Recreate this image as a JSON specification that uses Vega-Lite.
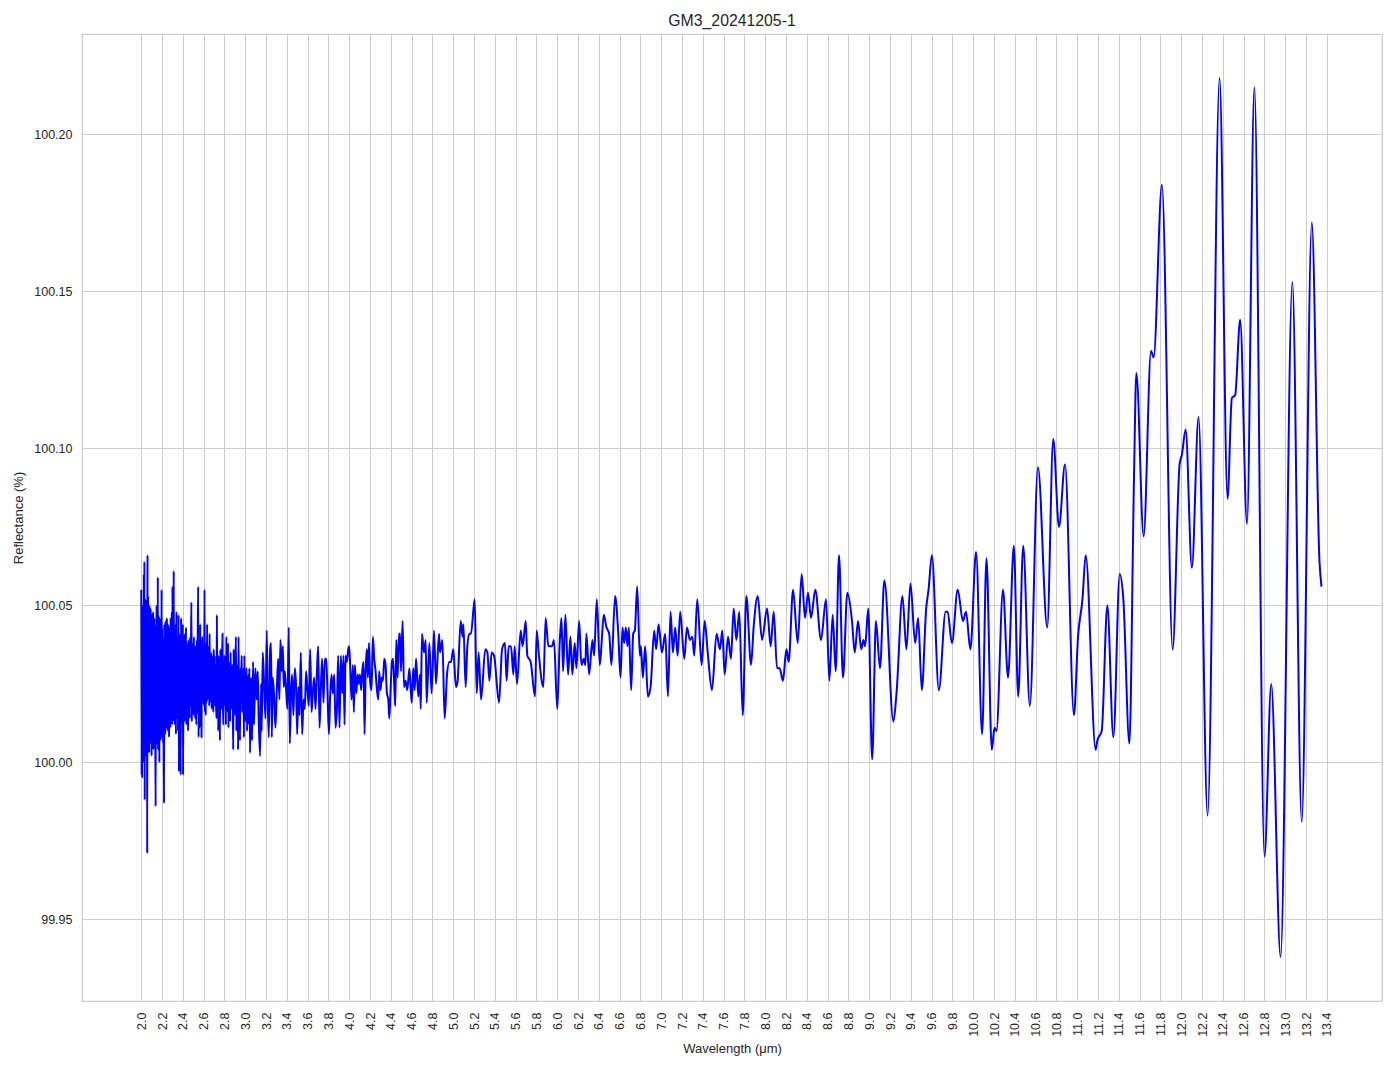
{
  "$schema": "https://vega.github.io/schema/vega-lite/v6.json",
  "autosize": {"type": "none"},
  "width": 1300,
  "height": 967,
  "padding": {"left": 82, "top": 34, "right": 12, "bottom": 68},
  "background": "white",
  "title": {"text": "GM3_20241205-1", "font": "Liberation Sans", "fontSize": 15.8, "fontWeight": "normal", "color": "#262626", "offset": 4},
  "config": {
    "view": {"stroke": "#cccccc", "strokeWidth": 1.25},
    "axis": {"gridColor": "#cccccc", "gridWidth": 1, "gridOpacity": 1, "domain": false, "ticks": false,
      "labelFont": "Liberation Sans", "labelFontSize": 12.5, "labelColor": "#262626",
      "titleFont": "Liberation Sans", "titleFontSize": 13, "titleFontWeight": "normal", "titleColor": "#262626"}
  },
  "data": {"values": [
{"w":2.000,"r":100.055},{"w":2.003,"r":99.996},{"w":2.006,"r":100.040},{"w":2.009,"r":99.995},{"w":2.012,"r":100.050},{"w":2.015,"r":100.005},{"w":2.018,"r":100.044},{"w":2.021,"r":100.000},{"w":2.024,"r":100.060},{"w":2.027,"r":100.010},{"w":2.030,"r":100.064},{"w":2.033,"r":99.988},{"w":2.036,"r":100.048},{"w":2.039,"r":100.012},{"w":2.042,"r":100.052},{"w":2.045,"r":100.002},{"w":2.048,"r":100.045},{"w":2.051,"r":100.008},{"w":2.054,"r":100.050},{"w":2.057,"r":99.971},{"w":2.060,"r":100.066},{"w":2.063,"r":100.005},{"w":2.066,"r":100.053},{"w":2.069,"r":100.009},{"w":2.072,"r":100.048},{"w":2.075,"r":100.003},{"w":2.078,"r":100.050},{"w":2.081,"r":100.010},{"w":2.084,"r":100.046},{"w":2.087,"r":100.006},{"w":2.090,"r":100.049},{"w":2.093,"r":100.012},{"w":2.096,"r":100.042},{"w":2.099,"r":100.002},{"w":2.102,"r":100.047},{"w":2.105,"r":100.007},{"w":2.108,"r":100.044},{"w":2.111,"r":100.010},{"w":2.114,"r":100.048},{"w":2.117,"r":100.004},{"w":2.120,"r":100.043},{"w":2.123,"r":100.011},{"w":2.126,"r":100.046},{"w":2.129,"r":100.007},{"w":2.132,"r":100.040},{"w":2.135,"r":100.012},{"w":2.138,"r":99.986},{"w":2.141,"r":100.044},{"w":2.144,"r":100.009},{"w":2.147,"r":100.050},{"w":2.150,"r":100.006},{"w":2.153,"r":100.045},{"w":2.156,"r":100.010},{"w":2.159,"r":100.059},{"w":2.162,"r":100.004},{"w":2.165,"r":100.047},{"w":2.168,"r":100.011},{"w":2.171,"r":100.042},{"w":2.174,"r":100.000},{"w":2.177,"r":100.046},{"w":2.180,"r":100.013},{"w":2.183,"r":100.041},{"w":2.186,"r":100.007},{"w":2.189,"r":100.045},{"w":2.192,"r":100.014},{"w":2.195,"r":100.055},{"w":2.198,"r":100.008},{"w":2.201,"r":100.043},{"w":2.204,"r":100.012},{"w":2.207,"r":100.040},{"w":2.210,"r":100.006},{"w":2.213,"r":100.038},{"w":2.216,"r":100.010},{"w":2.219,"r":99.987},{"w":2.222,"r":100.044},{"w":2.225,"r":100.013},{"w":2.228,"r":100.039},{"w":2.231,"r":100.009},{"w":2.234,"r":100.045},{"w":2.237,"r":100.014},{"w":2.240,"r":100.041},{"w":2.243,"r":100.011},{"w":2.246,"r":100.046},{"w":2.249,"r":100.015},{"w":2.252,"r":100.040},{"w":2.255,"r":100.010},{"w":2.258,"r":100.044},{"w":2.261,"r":100.013},{"w":2.264,"r":100.038},{"w":2.267,"r":100.008},{"w":2.270,"r":100.043},{"w":2.273,"r":100.015},{"w":2.276,"r":100.037},{"w":2.279,"r":100.011},{"w":2.282,"r":100.046},{"w":2.285,"r":100.014},{"w":2.288,"r":100.040},{"w":2.291,"r":100.016},{"w":2.294,"r":100.048},{"w":2.297,"r":100.012},{"w":2.300,"r":100.056},{"w":2.303,"r":100.015},{"w":2.306,"r":100.042},{"w":2.309,"r":100.018},{"w":2.312,"r":100.061},{"w":2.315,"r":100.013},
{"w":2.318,"r":100.040},{"w":2.323,"r":100.012},{"w":2.328,"r":100.044},{"w":2.333,"r":100.009},{"w":2.338,"r":100.048},{"w":2.343,"r":100.014},{"w":2.348,"r":100.039},{"w":2.353,"r":100.010},{"w":2.358,"r":100.047},{"w":2.362,"r":99.997},{"w":2.367,"r":100.041},{"w":2.371,"r":100.013},{"w":2.375,"r":100.038},{"w":2.379,"r":99.996},{"w":2.383,"r":100.046},{"w":2.387,"r":100.012},{"w":2.391,"r":100.040},{"w":2.395,"r":100.015},{"w":2.399,"r":100.044},{"w":2.402,"r":99.996},{"w":2.406,"r":100.037},{"w":2.410,"r":100.014},{"w":2.414,"r":100.041},{"w":2.418,"r":100.013},{"w":2.422,"r":100.036},{"w":2.426,"r":100.016},{"w":2.430,"r":100.043},{"w":2.434,"r":100.012},{"w":2.438,"r":100.038},{"w":2.442,"r":100.017},{"w":2.446,"r":100.035},{"w":2.450,"r":100.010},{"w":2.454,"r":100.039},{"w":2.458,"r":100.016},{"w":2.462,"r":100.036},{"w":2.466,"r":100.014},{"w":2.470,"r":100.040},{"w":2.474,"r":100.018},{"w":2.478,"r":100.037},{"w":2.482,"r":100.051},{"w":2.486,"r":100.013},{"w":2.490,"r":100.036},{"w":2.494,"r":100.017},{"w":2.498,"r":100.038},{"w":2.502,"r":100.015},{"w":2.506,"r":100.040},{"w":2.510,"r":100.019},{"w":2.514,"r":100.035},{"w":2.518,"r":100.014},{"w":2.522,"r":100.037},{"w":2.526,"r":100.018},{"w":2.530,"r":100.012},{"w":2.534,"r":100.039},{"w":2.538,"r":100.016},{"w":2.542,"r":100.036},{"w":2.547,"r":100.056},{"w":2.551,"r":100.008},{"w":2.555,"r":100.037},{"w":2.559,"r":100.017},{"w":2.563,"r":100.011},{"w":2.567,"r":100.044},{"w":2.571,"r":100.018},{"w":2.575,"r":100.035},{"w":2.579,"r":100.008},{"w":2.583,"r":100.037},{"w":2.588,"r":100.040},{"w":2.592,"r":100.019},{"w":2.596,"r":100.022},{"w":2.600,"r":100.036},{"w":2.604,"r":100.018},{"w":2.608,"r":100.055},{"w":2.612,"r":100.016},{"w":2.616,"r":100.034},{"w":2.620,"r":100.015},{"w":2.624,"r":100.038},{"w":2.628,"r":100.019},{"w":2.633,"r":100.044},{"w":2.637,"r":100.020},{"w":2.641,"r":100.035},{"w":2.645,"r":100.021},{"w":2.649,"r":100.037},{"w":2.653,"r":100.018},{"w":2.657,"r":100.041},{"w":2.661,"r":100.022},{"w":2.665,"r":100.033},{"w":2.669,"r":100.019},{"w":2.673,"r":100.035},{"w":2.677,"r":100.017},{"w":2.681,"r":100.034},{"w":2.685,"r":100.020},{"w":2.689,"r":100.032},{"w":2.693,"r":100.016},{"w":2.697,"r":100.036},{"w":2.701,"r":100.021},{"w":2.705,"r":100.034},{"w":2.709,"r":100.018},{"w":2.714,"r":100.031},{"w":2.718,"r":100.020},{"w":2.723,"r":100.014},{"w":2.727,"r":100.047},{"w":2.731,"r":100.019},{"w":2.736,"r":100.032},{"w":2.740,"r":100.010},{"w":2.744,"r":100.034},{"w":2.748,"r":100.018},{"w":2.752,"r":100.030},{"w":2.756,"r":100.007},{"w":2.760,"r":100.036},{"w":2.765,"r":100.020},{"w":2.769,"r":100.031},{"w":2.773,"r":100.017},{"w":2.777,"r":100.033},{"w":2.781,"r":100.041},{"w":2.785,"r":100.019},{"w":2.789,"r":100.012},{"w":2.793,"r":100.032},{"w":2.798,"r":100.021},{"w":2.802,"r":100.034},{"w":2.806,"r":100.018},{"w":2.810,"r":100.030},{"w":2.814,"r":100.012},{"w":2.818,"r":100.040},{"w":2.822,"r":100.022},{"w":2.826,"r":100.031},{"w":2.830,"r":100.016},{"w":2.834,"r":100.038},{"w":2.838,"r":100.011},{"w":2.843,"r":100.030},{"w":2.847,"r":100.020},{"w":2.851,"r":100.032},{"w":2.855,"r":100.013},{"w":2.859,"r":100.035},{"w":2.863,"r":100.022},{"w":2.867,"r":100.029},{"w":2.871,"r":100.017},{"w":2.875,"r":100.031},{"w":2.880,"r":100.021},{"w":2.884,"r":100.004},{"w":2.888,"r":100.036},{"w":2.892,"r":100.019},{"w":2.896,"r":100.029},{"w":2.900,"r":100.015},{"w":2.905,"r":100.032},{"w":2.910,"r":100.040},{"w":2.914,"r":100.010},{"w":2.918,"r":100.028},{"w":2.922,"r":100.019},{"w":2.926,"r":100.031},{"w":2.931,"r":100.004},{"w":2.935,"r":100.040},{"w":2.940,"r":100.018},{"w":2.944,"r":100.027},{"w":2.949,"r":100.007},{"w":2.953,"r":100.030},{"w":2.958,"r":100.020},{"w":2.962,"r":100.028},{"w":2.966,"r":100.034},{"w":2.970,"r":100.016},{"w":2.975,"r":100.027},{"w":2.979,"r":100.021},{"w":2.983,"r":100.030},{"w":2.987,"r":100.008},{"w":2.991,"r":100.034},{"w":2.996,"r":100.018},{"w":3.000,"r":100.027},{"w":3.005,"r":100.013},{"w":3.009,"r":100.025},{"w":3.013,"r":100.030},{"w":3.017,"r":100.010},{"w":3.022,"r":100.026},{"w":3.026,"r":100.019},{"w":3.030,"r":100.028},{"w":3.035,"r":100.012},{"w":3.039,"r":100.030},
{"w":3.046,"r":100.003},{"w":3.056,"r":100.027},{"w":3.065,"r":100.007},{"w":3.075,"r":100.032},{"w":3.084,"r":100.012},{"w":3.097,"r":100.030},{"w":3.110,"r":100.020},{"w":3.120,"r":100.029},{"w":3.129,"r":100.014},{"w":3.142,"r":100.002},{"w":3.152,"r":100.025},{"w":3.158,"r":100.010},{"w":3.168,"r":100.035},{"w":3.181,"r":100.025},{"w":3.194,"r":100.014},{"w":3.206,"r":100.042},{"w":3.216,"r":100.020},{"w":3.226,"r":100.008},{"w":3.239,"r":100.036},{"w":3.248,"r":100.038},{"w":3.255,"r":100.008},{"w":3.264,"r":100.027},{"w":3.277,"r":100.021},{"w":3.290,"r":100.011},{"w":3.303,"r":100.023},{"w":3.316,"r":100.033},{"w":3.328,"r":100.020},{"w":3.338,"r":100.039},{"w":3.351,"r":100.029},{"w":3.361,"r":100.037},{"w":3.370,"r":100.024},{"w":3.380,"r":100.029},{"w":3.393,"r":100.023},{"w":3.405,"r":100.017},{"w":3.418,"r":100.043},{"w":3.428,"r":100.006},{"w":3.441,"r":100.023},{"w":3.450,"r":100.028},{"w":3.463,"r":100.015},{"w":3.476,"r":100.030},{"w":3.489,"r":100.024},{"w":3.499,"r":100.009},{"w":3.511,"r":100.024},{"w":3.521,"r":100.015},{"w":3.534,"r":100.035},{"w":3.547,"r":100.009},{"w":3.560,"r":100.020},{"w":3.572,"r":100.017},{"w":3.585,"r":100.029},{"w":3.598,"r":100.023},{"w":3.611,"r":100.018},{"w":3.624,"r":100.036},{"w":3.637,"r":100.016},{"w":3.649,"r":100.022},{"w":3.662,"r":100.027},{"w":3.675,"r":100.017},{"w":3.688,"r":100.028},{"w":3.701,"r":100.037},{"w":3.714,"r":100.011},{"w":3.726,"r":100.023},{"w":3.739,"r":100.033},{"w":3.752,"r":100.019},{"w":3.765,"r":100.033},{"w":3.778,"r":100.033},{"w":3.790,"r":100.023},{"w":3.804,"r":100.009},{"w":3.816,"r":100.021},{"w":3.829,"r":100.028},{"w":3.842,"r":100.022},{"w":3.855,"r":100.028},{"w":3.868,"r":100.011},{"w":3.881,"r":100.017},{"w":3.893,"r":100.034},{"w":3.906,"r":100.011},{"w":3.919,"r":100.034},{"w":3.932,"r":100.022},{"w":3.945,"r":100.034},{"w":3.954,"r":100.012},{"w":3.964,"r":100.034},{"w":3.977,"r":100.032},{"w":3.990,"r":100.036},{"w":3.999,"r":100.037},{"w":4.012,"r":100.028},{"w":4.022,"r":100.020},{"w":4.035,"r":100.031},{"w":4.044,"r":100.016},{"w":4.054,"r":100.031},{"w":4.067,"r":100.022},{"w":4.080,"r":100.028},{"w":4.089,"r":100.025},{"w":4.102,"r":100.028},{"w":4.115,"r":100.023},{"w":4.125,"r":100.029},{"w":4.137,"r":100.032},{"w":4.147,"r":100.009},{"w":4.157,"r":100.029},{"w":4.169,"r":100.036},{"w":4.179,"r":100.027},{"w":4.189,"r":100.038},{"w":4.202,"r":100.025},{"w":4.214,"r":100.023},{"w":4.227,"r":100.040},{"w":4.240,"r":100.033},{"w":4.253,"r":100.029},{"w":4.266,"r":100.023},{"w":4.279,"r":100.020},{"w":4.288,"r":100.029},{"w":4.301,"r":100.023},{"w":4.311,"r":100.027},{"w":4.324,"r":100.026},{"w":4.336,"r":100.033},{"w":4.349,"r":100.031},{"w":4.362,"r":100.022},{"w":4.375,"r":100.020},{"w":4.385,"r":100.014},{"w":4.397,"r":100.023},{"w":4.410,"r":100.032},{"w":4.420,"r":100.033},{"w":4.433,"r":100.024},{"w":4.442,"r":100.018},{"w":4.452,"r":100.039},{"w":4.465,"r":100.027},{"w":4.478,"r":100.041},
{"w":4.488,"r":100.041},{"w":4.497,"r":100.029},{"w":4.513,"r":100.045},{"w":4.526,"r":100.024},{"w":4.542,"r":100.026},{"w":4.558,"r":100.023},{"w":4.578,"r":100.030},{"w":4.600,"r":100.019},{"w":4.616,"r":100.030},{"w":4.629,"r":100.023},{"w":4.642,"r":100.033},{"w":4.664,"r":100.021},{"w":4.680,"r":100.028},{"w":4.687,"r":100.017},{"w":4.699,"r":100.041},{"w":4.719,"r":100.035},{"w":4.735,"r":100.039},{"w":4.744,"r":100.019},{"w":4.770,"r":100.038},{"w":4.792,"r":100.022},{"w":4.815,"r":100.042},{"w":4.834,"r":100.025},{"w":4.863,"r":100.041},{"w":4.872,"r":100.035},{"w":4.895,"r":100.039},{"w":4.917,"r":100.014},{"w":4.940,"r":100.028},{"w":4.962,"r":100.032},{"w":4.978,"r":100.032},{"w":5.000,"r":100.036},{"w":5.026,"r":100.024},{"w":5.042,"r":100.026},{"w":5.071,"r":100.045},{"w":5.090,"r":100.040},{"w":5.097,"r":100.044},{"w":5.119,"r":100.024},{"w":5.135,"r":100.037},{"w":5.154,"r":100.041},{"w":5.170,"r":100.041},{"w":5.206,"r":100.052},{"w":5.225,"r":100.022},{"w":5.244,"r":100.035},{"w":5.267,"r":100.020},{"w":5.308,"r":100.036},{"w":5.328,"r":100.035},{"w":5.347,"r":100.026},{"w":5.369,"r":100.035},{"w":5.392,"r":100.034},{"w":5.440,"r":100.019},{"w":5.469,"r":100.036},{"w":5.497,"r":100.038},{"w":5.513,"r":100.026},{"w":5.533,"r":100.037},{"w":5.555,"r":100.037},{"w":5.578,"r":100.028},{"w":5.590,"r":100.037},{"w":5.613,"r":100.025},{"w":5.648,"r":100.042},{"w":5.667,"r":100.037},{"w":5.696,"r":100.045},{"w":5.712,"r":100.034},{"w":5.744,"r":100.032},{"w":5.786,"r":100.021},{"w":5.802,"r":100.042},{"w":5.821,"r":100.035},{"w":5.866,"r":100.024},{"w":5.888,"r":100.046},{"w":5.914,"r":100.037},{"w":5.949,"r":100.037},{"w":5.968,"r":100.039},{"w":6.000,"r":100.017},
{"w":6.023,"r":100.038},{"w":6.040,"r":100.046},{"w":6.056,"r":100.029},{"w":6.078,"r":100.047},{"w":6.104,"r":100.028},{"w":6.126,"r":100.040},{"w":6.145,"r":100.028},{"w":6.168,"r":100.038},{"w":6.184,"r":100.030},{"w":6.210,"r":100.045},{"w":6.232,"r":100.031},{"w":6.255,"r":100.033},{"w":6.270,"r":100.031},{"w":6.280,"r":100.041},{"w":6.306,"r":100.028},{"w":6.338,"r":100.039},{"w":6.354,"r":100.034},{"w":6.380,"r":100.052},{"w":6.409,"r":100.031},{"w":6.428,"r":100.039},{"w":6.447,"r":100.047},{"w":6.473,"r":100.043},{"w":6.499,"r":100.041},{"w":6.521,"r":100.031},{"w":6.556,"r":100.053},{"w":6.585,"r":100.042},{"w":6.608,"r":100.027},{"w":6.627,"r":100.043},{"w":6.643,"r":100.038},{"w":6.659,"r":100.043},{"w":6.675,"r":100.037},{"w":6.688,"r":100.043},{"w":6.710,"r":100.023},{"w":6.730,"r":100.041},{"w":6.746,"r":100.042},{"w":6.768,"r":100.056},{"w":6.794,"r":100.034},{"w":6.804,"r":100.037},{"w":6.823,"r":100.027},{"w":6.845,"r":100.037},{"w":6.871,"r":100.021},{"w":6.897,"r":100.024},{"w":6.932,"r":100.042},{"w":6.951,"r":100.036},{"w":6.974,"r":100.044},{"w":7.006,"r":100.035},{"w":7.038,"r":100.041},{"w":7.064,"r":100.021},{"w":7.089,"r":100.048},{"w":7.112,"r":100.035},{"w":7.134,"r":100.043},{"w":7.157,"r":100.034},{"w":7.182,"r":100.048},{"w":7.221,"r":100.033},{"w":7.247,"r":100.043},{"w":7.275,"r":100.039},{"w":7.298,"r":100.040},{"w":7.317,"r":100.034},{"w":7.346,"r":100.052},{"w":7.388,"r":100.031},{"w":7.417,"r":100.045},{"w":7.449,"r":100.034},{"w":7.487,"r":100.023},{"w":7.532,"r":100.041},{"w":7.564,"r":100.036},{"w":7.587,"r":100.042},{"w":7.609,"r":100.028},
{"w":7.642,"r":100.040},{"w":7.670,"r":100.033},{"w":7.696,"r":100.049},{"w":7.722,"r":100.039},{"w":7.750,"r":100.048},{"w":7.783,"r":100.015},{"w":7.818,"r":100.053},{"w":7.863,"r":100.031},{"w":7.888,"r":100.043},{"w":7.927,"r":100.053},{"w":7.969,"r":100.039},{"w":8.017,"r":100.049},{"w":8.052,"r":100.037},{"w":8.081,"r":100.048},{"w":8.113,"r":100.030},{"w":8.138,"r":100.030},{"w":8.170,"r":100.026},{"w":8.203,"r":100.036},{"w":8.225,"r":100.032},{"w":8.267,"r":100.055},{"w":8.312,"r":100.038},{"w":8.350,"r":100.060},{"w":8.382,"r":100.046},{"w":8.411,"r":100.054},{"w":8.440,"r":100.046},{"w":8.481,"r":100.055},{"w":8.536,"r":100.039},{"w":8.584,"r":100.052},{"w":8.616,"r":100.026},{"w":8.648,"r":100.047},{"w":8.677,"r":100.029},{"w":8.709,"r":100.066},{"w":8.747,"r":100.027},{"w":8.789,"r":100.054},{"w":8.834,"r":100.045},{"w":8.860,"r":100.035},{"w":8.892,"r":100.045},
{"w":8.922,"r":100.036},{"w":8.944,"r":100.039},{"w":8.960,"r":100.037},{"w":8.990,"r":100.049},{"w":9.028,"r":100.001},{"w":9.064,"r":100.045},{"w":9.103,"r":100.030},{"w":9.145,"r":100.058},{"w":9.232,"r":100.013},{"w":9.264,"r":100.023},{"w":9.319,"r":100.053},{"w":9.357,"r":100.036},{"w":9.396,"r":100.057},{"w":9.441,"r":100.038},{"w":9.470,"r":100.046},{"w":9.505,"r":100.023},{"w":9.547,"r":100.049},{"w":9.570,"r":100.055},{"w":9.602,"r":100.066},{"w":9.669,"r":100.023},{"w":9.734,"r":100.048},{"w":9.753,"r":100.048},{"w":9.795,"r":100.038},{"w":9.850,"r":100.055},{"w":9.901,"r":100.045},{"w":9.930,"r":100.048},{"w":9.972,"r":100.036},{"w":10.027,"r":100.067},{"w":10.085,"r":100.009},{"w":10.127,"r":100.065},{"w":10.178,"r":100.004},{"w":10.204,"r":100.011},{"w":10.223,"r":100.010},{"w":10.286,"r":100.055},{"w":10.334,"r":100.027},{"w":10.390,"r":100.069},
{"w":10.432,"r":100.021},{"w":10.480,"r":100.069},{"w":10.544,"r":100.018},{"w":10.622,"r":100.094},{"w":10.711,"r":100.043},{"w":10.769,"r":100.103},{"w":10.824,"r":100.075},{"w":10.882,"r":100.095},{"w":10.968,"r":100.015},{"w":11.007,"r":100.040},{"w":11.050,"r":100.052},{"w":11.081,"r":100.066},{"w":11.177,"r":100.004},{"w":11.193,"r":100.007},{"w":11.235,"r":100.010},{"w":11.289,"r":100.050},{"w":11.347,"r":100.008},{"w":11.408,"r":100.060},{"w":11.443,"r":100.052},{"w":11.501,"r":100.006},{"w":11.545,"r":100.090},
{"w":11.568,"r":100.124},{"w":11.638,"r":100.072},{"w":11.709,"r":100.131},{"w":11.734,"r":100.129},{"w":11.814,"r":100.184},{"w":11.917,"r":100.036},{"w":11.984,"r":100.095},{"w":12.006,"r":100.098},{"w":12.042,"r":100.106},{"w":12.102,"r":100.062},{"w":12.166,"r":100.110},{"w":12.253,"r":99.983},{"w":12.368,"r":100.218},{"w":12.445,"r":100.084},{"w":12.486,"r":100.116},{"w":12.518,"r":100.117},{"w":12.566,"r":100.141},{"w":12.632,"r":100.076},{"w":12.703,"r":100.215},{"w":12.800,"r":99.970},{"w":12.865,"r":100.025},{"w":12.955,"r":99.938},{"w":13.068,"r":100.153},{"w":13.158,"r":99.981},{"w":13.255,"r":100.172},{"w":13.329,"r":100.064},{"w":13.348,"r":100.056}
  ]},
  "mark": {"type": "line", "color": "#0000ff", "strokeWidth": 2, "interpolate": "monotone", "clip": true},
  "encoding": {
    "x": {"field": "w", "type": "quantitative", "title": "Wavelength (μm)",
      "scale": {"domain": [1.43, 13.93], "nice": false, "zero": false},
      "axis": {"values": [2.0,2.2,2.4,2.6,2.8,3.0,3.2,3.4,3.6,3.8,4.0,4.2,4.4,4.6,4.8,5.0,5.2,5.4,5.6,5.8,6.0,6.2,6.4,6.6,6.8,7.0,7.2,7.4,7.6,7.8,8.0,8.2,8.4,8.6,8.8,9.0,9.2,9.4,9.6,9.8,10.0,10.2,10.4,10.6,10.8,11.0,11.2,11.4,11.6,11.8,12.0,12.2,12.4,12.6,12.8,13.0,13.2,13.4],
        "format": ".1f", "labelAngle": -90, "labelAlign": "right", "labelBaseline": "middle", "labelPadding": 11, "titlePadding": 6, "labelOverlap": false}},
    "y": {"field": "r", "type": "quantitative", "title": "Reflectance (%)",
      "scale": {"domain": [99.924, 100.232], "nice": false, "zero": false},
      "axis": {"values": [99.95, 100.0, 100.05, 100.1, 100.15, 100.2], "format": ".2f", "labelPadding": 10, "titlePadding": 8}}
  }
}
